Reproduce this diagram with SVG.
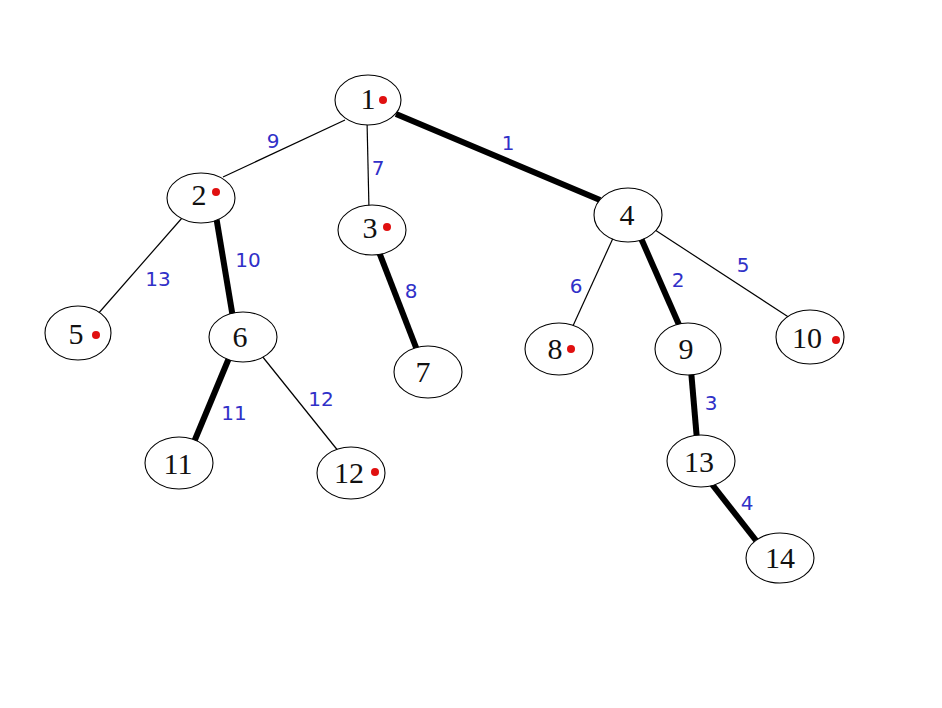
<svg xmlns="http://www.w3.org/2000/svg" width="942" height="708" viewBox="0 0 942 708">
<style>
.e{stroke:#000;fill:none}
.thin{stroke-width:1.2}
.thick{stroke-width:6}
.n ellipse{fill:#fff;stroke:#000;stroke-width:1.1}
.n text{font-family:"Liberation Serif","Times New Roman",serif;font-size:30px;fill:#111;text-anchor:middle}
.d{fill:#e01010}
.l{font-family:"DejaVu Sans",sans-serif;font-size:20px;fill:#3030c8;text-anchor:middle}
</style>
<rect width="942" height="708" fill="#fff"/>
<g id="connectors">
<line class="e thin" x1="223" y1="177" x2="345" y2="120"/>
<line class="e thin" x1="367" y1="120" x2="369" y2="210"/>
<line class="e thick" x1="396" y1="114" x2="600" y2="200"/>
<line class="e thin" x1="182" y1="218" x2="97" y2="315"/>
<line class="e thick" x1="216" y1="216" x2="233" y2="318"/>
<line class="e thick" x1="379" y1="252" x2="417" y2="350"/>
<line class="e thin" x1="614" y1="236" x2="572" y2="328"/>
<line class="e thick" x1="640" y1="236" x2="680" y2="327"/>
<line class="e thin" x1="652" y1="228" x2="790" y2="318"/>
<line class="e thick" x1="229" y1="358" x2="194" y2="442"/>
<line class="e thin" x1="262" y1="356" x2="339" y2="452"/>
<line class="e thick" x1="691" y1="370" x2="697" y2="440"/>
<line class="e thick" x1="711" y1="483" x2="758" y2="543"/>
<text class="l" x="273" y="148">9</text>
<text class="l" x="378" y="175">7</text>
<text class="l" x="508" y="150">1</text>
<text class="l" x="158" y="286">13</text>
<text class="l" x="248" y="267">10</text>
<text class="l" x="411" y="298">8</text>
<text class="l" x="576" y="293">6</text>
<text class="l" x="678" y="287">2</text>
<text class="l" x="743" y="272">5</text>
<text class="l" x="234" y="420">11</text>
<text class="l" x="321" y="406">12</text>
<text class="l" x="711" y="410">3</text>
<text class="l" x="747" y="510">4</text>
</g>
<g id="n1" class="n"><ellipse cx="368" cy="100" rx="33" ry="25"/><text x="368" y="109">1</text><circle class="d" cx="383" cy="100" r="4"/></g>
<g id="n2" class="n"><ellipse cx="201" cy="198" rx="34" ry="25"/><text x="199" y="205">2</text><circle class="d" cx="216" cy="192" r="4"/></g>
<g id="n3" class="n"><ellipse cx="372" cy="230" rx="34" ry="25"/><text x="370" y="238">3</text><circle class="d" cx="387" cy="227" r="4"/></g>
<g id="n4" class="n"><ellipse cx="628" cy="215" rx="34" ry="27"/><text x="627" y="225">4</text></g>
<g id="n5" class="n"><ellipse cx="78" cy="333" rx="33" ry="27"/><text x="76" y="344">5</text><circle class="d" cx="96" cy="335" r="4"/></g>
<g id="n6" class="n"><ellipse cx="243" cy="337" rx="34" ry="25"/><text x="240" y="347">6</text></g>
<g id="n7" class="n"><ellipse cx="428" cy="372" rx="34" ry="26"/><text x="423" y="382">7</text></g>
<g id="n8" class="n"><ellipse cx="559" cy="349" rx="34" ry="26"/><text x="555" y="359">8</text><circle class="d" cx="571" cy="349" r="4"/></g>
<g id="n9" class="n"><ellipse cx="688" cy="349" rx="33" ry="26"/><text x="686" y="359">9</text></g>
<g id="n10" class="n"><ellipse cx="810" cy="337" rx="34" ry="27"/><text x="807" y="348">10</text><circle class="d" cx="836" cy="340" r="4"/></g>
<g id="n11" class="n"><ellipse cx="179" cy="463" rx="34" ry="26"/><text x="178" y="474">11</text></g>
<g id="n12" class="n"><ellipse cx="351" cy="473" rx="34" ry="26"/><text x="349" y="483">12</text><circle class="d" cx="375" cy="472" r="4"/></g>
<g id="n13" class="n"><ellipse cx="701" cy="461" rx="34" ry="26"/><text x="699" y="472">13</text></g>
<g id="n14" class="n"><ellipse cx="780" cy="558" rx="34" ry="25"/><text x="780" y="568">14</text></g>
</svg>
